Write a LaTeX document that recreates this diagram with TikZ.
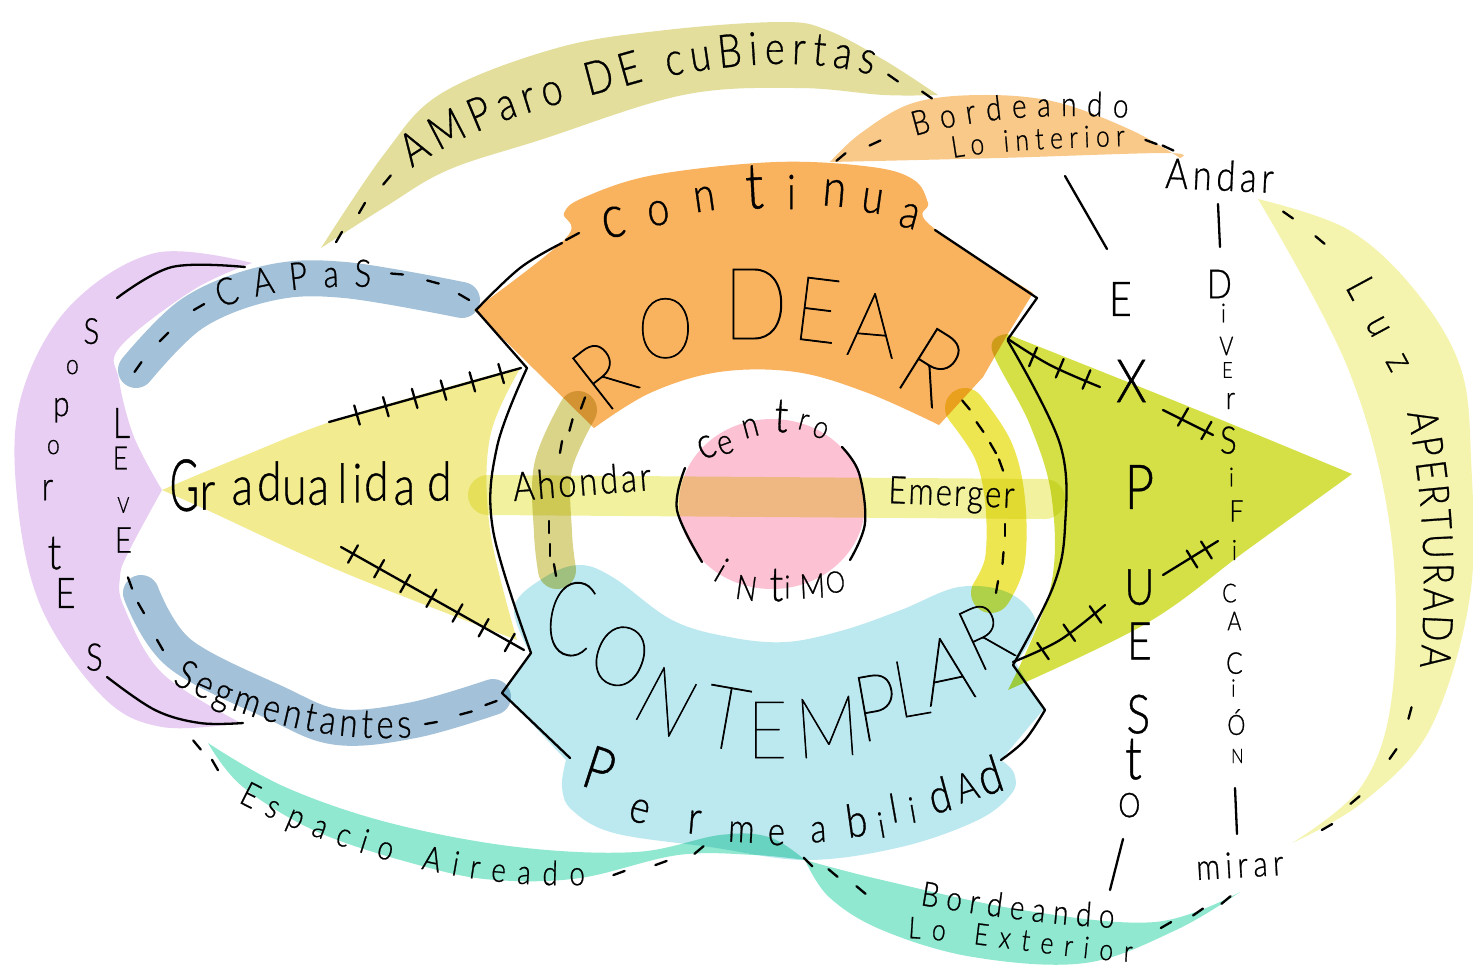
\documentclass[tikz,border=0pt]{standalone}
\usepackage{graphicx}
\usepackage{fontspec}
\setmainfont{Lato}
\newfontfamily\hand[FakeStretch=0.82,FakeBold=0.7]{Lato Light}
\newfontfamily\handthin[FakeStretch=0.85,FakeBold=0.9]{Lato Thin}
\usetikzlibrary{decorations.text,decorations.pathreplacing}
\newdimen\pxu \pxu=0.5pt
\newcommand{\fsz}[1]{\fontsize{#1}{#1}\selectfont}
\newcommand{\rat}[5]{\smash{\rlap{\hspace*{#1\pxu}\raisebox{-#2\pxu}{\makebox[0pt]{\rotatebox[origin=c]{#3}{\fsz{#4}\raisebox{-0.5\height}{#5}}}}}}}
\definecolor{cOrange}{HTML}{F9B25E}
\definecolor{cBlue}{HTML}{BCE8EF}
\definecolor{cPink}{HTML}{FCC2D4}
\definecolor{cTri}{HTML}{F2EB90}
\definecolor{cLime}{HTML}{D4E045}
\definecolor{cPale}{HTML}{F2F29E}
\definecolor{cLuz}{HTML}{F4F4AE}
\definecolor{cPurple}{HTML}{E8CEF3}
\definecolor{cTeal}{HTML}{8FE8CF}
\definecolor{cKhaki}{HTML}{E3DE9C}
\definecolor{cSlate}{HTML}{A3C1D8}
\definecolor{cPeach}{HTML}{F9C98A}
\definecolor{cOlive}{HTML}{D9D488}
\definecolor{cYel}{HTML}{EEE650}
\tikzset{
 x=0.5pt,y=-0.5pt,
 ink/.style={line width=1.15pt,line cap=round,line join=round,black},
 hatch/.style={ink,decorate,decoration={ticks,segment length=#1,amplitude=5pt}},
 band/.style={line width=18pt,line cap=round,line join=round},
 curved/.style 2 args={decorate,decoration={text along path,text={|\hand\fsz{#1}|#2},text align={fit to path}}},
 word/.style={inner sep=0pt,anchor=base west,font=\hand},
 smt/.style={smooth,tension=0.6}
}
\begin{document}
\begin{tikzpicture}
\useasboundingbox (0,0) rectangle (1473,966);
\fill[white] (0,0) rectangle (1473,966);
\begin{scope}[blend mode=multiply]
\fill[cKhaki] plot[smt] coordinates {(321,248) (385,153) (442,93) (557,48) (666,30) (781,22) (827,30) (884,60) (938,95)} -- plot[smt] coordinates {(938,95) (884,95) (798,88) (683,95) (540,140) (448,170) (385,207) (321,248)} -- cycle;
\fill[cPeach] plot[smt] coordinates {(830,162) (861,133) (913,103) (982,95) (1056,102) (1131,130) (1180,158)} -- plot[smt] coordinates {(1180,158) (1165,153) (999,158) (830,162)} -- cycle;
\fill[cLuz] plot[smt] coordinates {(1258,199) (1347,229) (1413,288) (1460,366) (1471,458) (1470,596) (1430,729) (1363,802) (1292,843)} -- plot[smt] coordinates {(1292,843) (1363,784) (1393,687) (1390,527) (1347,366) (1258,199)} -- cycle;
\fill[cPurple] plot[smt] coordinates {(252,263) (155,253) (69,307) (21,397) (17,497) (41,607) (103,697) (162,727) (241,723)} -- plot[smt] coordinates {(241,723) (162,673) (124,607) (120,577) (128,553) (162,490)} -- plot[smt] coordinates {(162,490) (134,437) (119,380) (120,347) (193,290) (252,263)} -- cycle;
\fill[cTeal] plot[smt] coordinates {(208,743) (285,787) (390,823) (517,847) (636,852) (720,835) (769,837) (805,860)} -- plot[smt] coordinates {(805,860) (755,855) (678,855) (580,878) (496,880) (426,867) (320,833) (243,787) (208,743)} -- cycle;
\fill[cTeal] plot[smt] coordinates {(805,860) (882,880) (1022,910) (1155,922) (1240,892)} -- plot[smt] coordinates {(1240,892) (1176,930) (1085,963) (973,957) (882,930) (829,897) (805,860)} -- cycle;
\fill[cTri] plot[smt] coordinates {(162,490) (241,457) (345,417) (521,367)} -- plot[smt] coordinates {(521,367) (490,437) (490,530) (517,640)} -- plot[smt] coordinates {(517,640) (345,573) (207,510) (162,490)} -- cycle;
\fill[cLime] plot[smt] coordinates {(1007,334) (1180,403) (1352,474)} -- plot[smt] coordinates {(1352,474) (1247,550) (1147,623) (1008,690)} -- plot[smt] coordinates {(1008,690) (1050,590) (1052,500) (1030,425) (992,350) (1007,334)} -- cycle;
\draw[band,cSlate] plot[smt] coordinates {(136,370) (193,313) (269,283) (345,280) (462,300)};
\draw[band,cSlate] plot[smt] coordinates {(141,593) (179,653) (276,703) (338,727) (414,720) (493,697)};
\fill[cPink] (772,504) ellipse [x radius=93,y radius=85];
\draw[line width=20pt,line cap=round,cPale] (488,495) -- (1045,499);
\draw[line width=19pt,line cap=round,cOlive] plot[smt] coordinates {(578,410) (553,467) (553,533) (557,570)};
\draw[line width=20pt,line cap=round,cYel] plot[smt] coordinates {(965,408) (993,450) (1005,500) (1005,560) (991,593)};
\fill[cOrange] plot[smt] coordinates {(474,310) (566,238) (564,213) (585,197) (654,175) (776,162) (872,167) (914,180) (928,203) (930,225) (1033,293)} -- (1006,337) -- (983,377) -- plot[smt] coordinates {(939,425) (868,393) (796,372) (719,372) (650,393) (594,428)} -- cycle;
\fill[cBlue] plot[smt] coordinates {(530,653) (514,607) (545,577) (580,565) (614,578) (672,620) (729,637) (786,642) (844,630) (901,610) (959,587) (1009,593) (1036,623) (1016,663)} -- (1043,710) -- plot[smt] coordinates {(1001,760) (1014,773) (1012,793) (978,820) (901,847) (806,860) (710,847) (614,833) (572,810) (562,787) (566,760)} -- (503,693) -- cycle;
\end{scope}
% outlines
\draw[ink] plot[smt] coordinates {(562,243) (520,268) (476,310)} -- (527,368) -- plot[smt] coordinates {(527,368) (497,447) (493,530) (531,653)} -- (502,693) -- (570,758);
\draw[ink] (566,240) -- (579,233);
\draw[ink] (935,230) -- (1037,298) -- (1008,339) -- plot[smt] coordinates {(1008,341) (1060,444) (1065,527) (1053,587) (1013,665)} -- (1045,710) -- plot[smt] coordinates {(1045,710) (1025,740) (1001,760)};
\draw[ink] plot[smt] coordinates {(117,298) (172,267) (245,267)};
\draw[ink] plot[smt] coordinates {(107,677) (155,710) (200,723) (243,723)};
\draw[ink] plot[smt] coordinates {(685,468) (677,510) (702,562)};
\draw[ink] plot[smt] coordinates {(842,447) (859,473) (865,523) (850,560)};
% short dashes
\foreach \px/\py/\pa in {339/237/-60,362/208/-60,387/180/-50,893/78/35,927/95/35,841/157/-40,875/143/-25,1151/142/20,1168/148/25,
 138/367/-55,164/337/-45,199/307/-30,397/274/5,433/282/15,464/297/30,
 130/583/70,141/608/60,160/645/60,431/723/-10,466/713/-15,491/703/-20,
 197/745/50,215/765/60,619/873/-20,661/863/-20,699/850/-40,808/862/45,833/873/40,861/890/40,1166/925/-30,1198/912/-35,1226/900/-40,
 1288/215/35,1320/240/40,1410/713/-75,1393/754/-55,1355/800/-40,1327/827/-30,
 583/403/-70,571/425/-75,561/447/-80,549/527/90,550/550/90,555/570/80,
 966/405/50,980/427/55,993/448/60,1001/465/70,1005/530/90,1003/558/95,997/587/100}
 {\draw[ink] (\px,\py) ++(\pa:-6) -- ++(\pa:12);}
% straight strokes
\draw[ink] (1065,176) -- (1107,249);
\draw[ink] (1218,204) -- (1220,247);
\draw[ink] (1235,788) -- (1237,834);
\draw[ink] (1123,839) -- (1110,890);
% hatched lines
\draw[ink] (329,422) -- (521,368);
\draw[hatch=15pt] (357,415) -- (503,373);
\draw[ink] (341,547) -- (524,650);
\draw[hatch=15pt] (353,554) -- (516,646);
\draw[ink] plot[smt] coordinates {(1008,339) (1050,365) (1100,387)};
\draw[hatch=14.5pt] (1033,357) -- (1090,381);
\draw[ink] (1163,410) -- (1213,435);
\draw[hatch=13.5pt] (1183,417) -- (1209,432);
\draw[ink] plot[smt] coordinates {(1013,662) (1060,640) (1105,605)};
\draw[hatch=16pt] (1043,651) -- (1099,612);
\draw[ink] (1163,575) -- (1218,541);
\draw[hatch=8.5pt] (1192,559) -- (1208,549);
% curved words
\path[curved={23}{AMParo DE cuBiertas}] (412,168) .. controls (490,115) and (560,105) .. (640,82) .. controls (720,65) and (800,55) .. (872,75);
\path[curved={17}{Bordeando}] (915,136) .. controls (970,120) and (1040,112) .. (1128,118);
\path[curved={15}{Lo interior}] (953,158) .. controls (1000,150) and (1060,148) .. (1125,146);
\path[curved={20}{Ahondar}] (514,501) -- (652,490);
\path[curved={19}{Emerger}] (888,503) -- (1014,508);
\path[curved={21}{Andar}] (1165,188) -- (1273,193);
\path[curved={18}{mirar}] (1197,880) -- (1284,875);
\path[curved={19}{CAPaS}] (221,308) .. controls (260,292) and (310,285) .. (371,287);
\path[curved={20}{Segmentantes}] (172,683) .. controls (220,710) and (320,745) .. (412,737);
\path[curved={17}{Espacio Aireado}] (238,802) .. controls (320,845) and (450,890) .. (585,885);
\path[curved={17}{Bordeando}] (920,905) .. controls (980,915) and (1050,925) .. (1114,928);
\path[curved={15}{Lo Exterior}] (908,938) .. controls (980,942) and (1060,958) .. (1132,962);
\path[curved={20}{Luz}] (1345,287) -- (1392,374);
\path[curved={21}{APERTURADA}] (1407,413) .. controls (1425,500) and (1427,590) .. (1420,667);
% lettered words
\node[word] (gradualidad) at (0,0) {\rat{183}{485}{0}{36}{\scalebox{.68}[1]{G}}\rat{206}{496}{0}{27}{r}\rat{241}{491}{0}{27}{a}\rat{268}{481}{0}{27}{d}\rat{293}{491}{0}{27}{u}\rat{317}{491}{0}{27}{a}\rat{341}{483}{0}{27}{l}\rat{356}{483}{0}{27}{i}\rat{375}{481}{0}{27}{d}\rat{403}{491}{0}{27}{a}\rat{438}{481}{0}{27}{d}};
\node[word] (continua) at (0,0) {\rat{612}{222}{12}{30}{c}\rat{657}{213}{8}{24}{o}\rat{703}{199}{8}{24}{n}\rat{753}{187}{3}{32}{t}\rat{790}{192}{0}{24}{i}\rat{833}{193}{-5}{26}{n}\rat{871}{201}{-8}{24}{u}\rat{908}{216}{-15}{24}{a}};
\node[word,font=\handthin] (rodear) at (0,0) {\rat{602}{375}{38}{46}{R}\rat{664}{328}{0}{42}{O}\rat{754}{304}{0}{50}{D}\rat{816}{310}{-7}{45}{E}\rat{871}{325}{-5}{45}{A}\rat{930}{366}{-32}{50}{R}};
\node[word,font=\handthin] (contemplar) at (0,0) {\rat{569}{618}{-10}{52}{\scalebox{.8}[1]{C}}\rat{619}{656}{-20}{42}{O}\rat{665}{702}{-28}{42}{N}\rat{725}{718}{-10}{44}{T}\rat{766}{730}{0}{40}{E}\rat{826}{727}{4}{42}{M}\rat{875}{707}{10}{46}{P}\rat{909}{688}{10}{40}{L}\rat{945}{670}{12}{46}{A}\rat{983}{636}{25}{44}{R}};
\node[word] (permeabilidad) at (0,0) {\rat{598}{769}{-18}{30}{P}\rat{638}{811}{-15}{23}{e}\rat{693}{822}{-5}{23}{r}\rat{740}{832}{-3}{20}{m}\rat{775}{835}{0}{20}{e}\rat{817}{832}{3}{20}{a}\rat{855}{820}{8}{23}{b}\rat{880}{825}{10}{18}{i}\rat{892}{808}{10}{20}{l}\rat{911}{810}{10}{18}{i}\rat{938}{795}{15}{24}{d}\rat{965}{787}{18}{20}{A}\rat{988}{775}{18}{26}{d}};
\node[word] (centro) at (0,0) {\rat{705}{447}{25}{22}{c}\rat{724}{445}{20}{18}{e}\rat{749}{428}{15}{18}{n}\rat{780}{416}{-3}{24}{t}\rat{802}{422}{-15}{16}{r}\rat{819}{430}{-22}{16}{o}};
\node[word] (intimo) at (0,0) {\rat{720}{570}{-30}{18}{i}\rat{745}{588}{-8}{17}{N}\rat{775}{585}{0}{24}{t}\rat{786}{587}{0}{16}{i}\rat{811}{586}{3}{17}{M}\rat{834}{582}{8}{15}{O}};
\node[word] (soportes) at (0,0) {\rat{90}{331}{0}{18}{S}\rat{71}{367}{0}{14}{o}\rat{60}{407}{0}{18}{p}\rat{52}{447}{0}{14}{o}\rat{46}{490}{0}{20}{r}\rat{53}{553}{0}{24}{t}\rat{64}{593}{0}{21}{E}\rat{93}{657}{0}{19}{S}};
\node[word] (leve) at (0,0) {\rat{120}{423}{0}{21}{L}\rat{119}{458}{0}{16}{E}\rat{122}{505}{0}{11}{V}\rat{122}{540}{0}{18}{E}};
\node[word] (expuesto) at (0,0) {\rat{1119}{299}{0}{24}{E}\rat{1130}{381}{0}{30}{X}\rat{1138}{487}{0}{31}{P}\rat{1138}{587}{0}{25}{U}\rat{1138}{641}{0}{26}{E}\rat{1137}{714}{0}{27}{S}\rat{1132}{759}{0}{30}{t}\rat{1128}{805}{0}{17}{O}};
\node[word] (diversificacion) at (0,0) {\rat{1218}{284}{0}{20}{D}\rat{1222}{313}{0}{13}{i}\rat{1225}{346}{0}{13}{V}\rat{1226}{370}{0}{11}{E}\rat{1229}{401}{0}{16}{r}\rat{1227}{440}{0}{19}{S}\rat{1230}{477}{0}{13}{i}\rat{1235}{511}{0}{15}{F}\rat{1233}{550}{0}{14}{i}\rat{1228}{593}{0}{13}{C}\rat{1233}{621}{0}{13}{A}\rat{1233}{663}{0}{15}{C}\rat{1232}{688}{0}{12}{i}\rat{1235}{722}{0}{14}{Ó}\rat{1236}{756}{0}{10}{N}};
\end{tikzpicture}
\end{document}
